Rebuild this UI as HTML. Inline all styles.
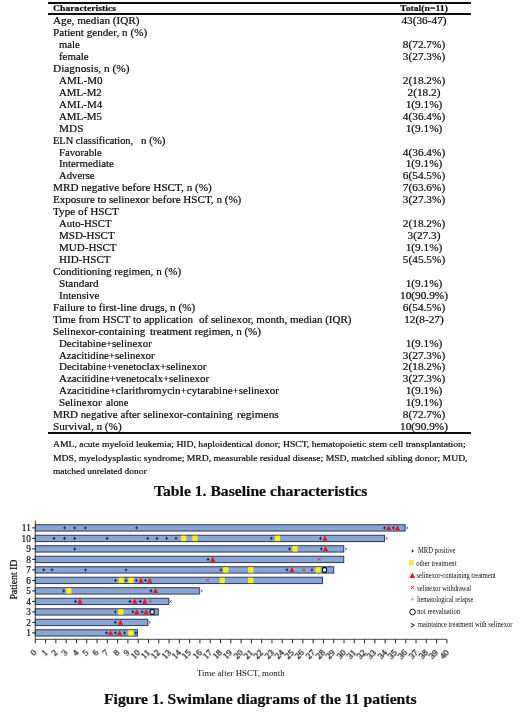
<!DOCTYPE html>
<html><head><meta charset="utf-8"><title>Table 1 / Figure 1</title>
<style>
html,body{margin:0;padding:0;background:#fff;}
body{width:520px;height:718px;position:relative;overflow:hidden;font-family:"Liberation Serif",serif;color:#0c0c0c;}
.t{position:absolute;white-space:pre;line-height:1;transform-origin:0 0;-webkit-text-stroke:0.2px #0c0c0c;}
.c{position:absolute;white-space:pre;line-height:1;text-align:center;transform-origin:50% 0;-webkit-text-stroke:0.2px #0c0c0c;}
.hl{position:absolute;left:48px;width:422.6px;background:#0c0c0c;}
svg{position:absolute;left:0;top:0;}
.xl{position:absolute;font-size:9px;line-height:1;white-space:pre;text-align:right;transform-origin:100% 7.54px;transform:rotate(-45deg);-webkit-text-stroke:0.25px #0c0c0c;will-change:transform;}
svg text{font-family:"Liberation Serif",serif;fill:#0c0c0c;}
</style></head><body>

<div class="hl" style="top:1.7px;height:2px"></div>
<div class="hl" style="top:13.4px;height:1.8px"></div>
<div class="hl" style="top:432.1px;height:2.1px"></div>
<span class="t" style="left:53.10px;top:4.26px;font-size:9px;transform:scaleX(1.0790);font-weight:bold;">Characteristics</span>
<span class="c" style="left:324.30px;width:200px;top:4.26px;font-size:9px;transform:scaleX(1.0800);font-weight:bold;">Total(n=11)</span>
<span class="t" style="left:52.90px;top:16.18px;font-size:10.0px;transform:scaleX(1.1165);">Age, median (IQR)</span>
<span class="c" style="left:323.70px;width:200px;top:16.18px;font-size:10.0px;transform:scaleX(1.1300);">43(36-47)</span>
<span class="t" style="left:52.90px;top:28.12px;font-size:10.0px;transform:scaleX(1.1127);">Patient gender, n (%)</span>
<span class="t" style="left:58.60px;top:40.05px;font-size:10.0px;transform:scaleX(1.0704);">male</span>
<span class="c" style="left:323.70px;width:200px;top:40.05px;font-size:10.0px;transform:scaleX(1.1300);">8(72.7%)</span>
<span class="t" style="left:58.60px;top:52.00px;font-size:10.0px;transform:scaleX(1.0882);">female</span>
<span class="c" style="left:323.70px;width:200px;top:52.00px;font-size:10.0px;transform:scaleX(1.1300);">3(27.3%)</span>
<span class="t" style="left:52.90px;top:63.94px;font-size:10.0px;transform:scaleX(1.1335);">Diagnosis, n (%)</span>
<span class="t" style="left:58.60px;top:75.88px;font-size:10.0px;transform:scaleX(1.1054);">AML-M0</span>
<span class="c" style="left:323.70px;width:200px;top:75.88px;font-size:10.0px;transform:scaleX(1.1300);">2(18.2%)</span>
<span class="t" style="left:58.60px;top:87.81px;font-size:10.0px;transform:scaleX(1.0851);">AML-M2</span>
<span class="c" style="left:323.70px;width:200px;top:87.81px;font-size:10.0px;transform:scaleX(1.1300);">2(18.2)</span>
<span class="t" style="left:58.60px;top:99.75px;font-size:10.0px;transform:scaleX(1.0952);">AML-M4</span>
<span class="c" style="left:323.70px;width:200px;top:99.75px;font-size:10.0px;transform:scaleX(1.1300);">1(9.1%)</span>
<span class="t" style="left:58.60px;top:111.69px;font-size:10.0px;transform:scaleX(1.0902);">AML-M5</span>
<span class="c" style="left:323.70px;width:200px;top:111.69px;font-size:10.0px;transform:scaleX(1.1300);">4(36.4%)</span>
<span class="t" style="left:58.60px;top:123.63px;font-size:10.0px;transform:scaleX(1.1257);">MDS</span>
<span class="c" style="left:323.70px;width:200px;top:123.63px;font-size:10.0px;transform:scaleX(1.1300);">1(9.1%)</span>
<span class="t" style="left:52.90px;top:135.57px;font-size:10.0px;transform:scaleX(1.0376);">ELN classification,</span>
<span class="t" style="left:140.50px;top:135.57px;font-size:10.0px;transform:scaleX(1.0893);">n (%)</span>
<span class="t" style="left:58.60px;top:147.52px;font-size:10.0px;transform:scaleX(1.0704);">Favorable</span>
<span class="c" style="left:323.70px;width:200px;top:147.52px;font-size:10.0px;transform:scaleX(1.1300);">4(36.4%)</span>
<span class="t" style="left:58.60px;top:159.46px;font-size:10.0px;transform:scaleX(1.0846);">Intermediate</span>
<span class="c" style="left:323.70px;width:200px;top:159.46px;font-size:10.0px;transform:scaleX(1.1300);">1(9.1%)</span>
<span class="t" style="left:58.60px;top:171.40px;font-size:10.0px;transform:scaleX(1.0684);">Adverse</span>
<span class="c" style="left:323.70px;width:200px;top:171.40px;font-size:10.0px;transform:scaleX(1.1300);">6(54.5%)</span>
<span class="t" style="left:52.90px;top:183.34px;font-size:10.0px;transform:scaleX(1.1183);">MRD negative before HSCT, n (%)</span>
<span class="c" style="left:323.70px;width:200px;top:183.34px;font-size:10.0px;transform:scaleX(1.1300);">7(63.6%)</span>
<span class="t" style="left:52.90px;top:195.28px;font-size:10.0px;transform:scaleX(1.1073);">Exposure to selinexor before HSCT, n (%)</span>
<span class="c" style="left:323.70px;width:200px;top:195.28px;font-size:10.0px;transform:scaleX(1.1300);">3(27.3%)</span>
<span class="t" style="left:52.90px;top:207.22px;font-size:10.0px;transform:scaleX(1.1202);">Type of HSCT</span>
<span class="t" style="left:58.60px;top:219.16px;font-size:10.0px;transform:scaleX(1.0758);">Auto-HSCT</span>
<span class="c" style="left:323.70px;width:200px;top:219.16px;font-size:10.0px;transform:scaleX(1.1300);">2(18.2%)</span>
<span class="t" style="left:58.60px;top:231.09px;font-size:10.0px;transform:scaleX(1.0995);">MSD-HSCT</span>
<span class="c" style="left:323.70px;width:200px;top:231.09px;font-size:10.0px;transform:scaleX(1.1300);">3(27.3)</span>
<span class="t" style="left:58.60px;top:243.03px;font-size:10.0px;transform:scaleX(1.1029);">MUD-HSCT</span>
<span class="c" style="left:323.70px;width:200px;top:243.03px;font-size:10.0px;transform:scaleX(1.1300);">1(9.1%)</span>
<span class="t" style="left:58.60px;top:254.97px;font-size:10.0px;transform:scaleX(1.1057);">HID-HSCT</span>
<span class="c" style="left:323.70px;width:200px;top:254.97px;font-size:10.0px;transform:scaleX(1.1300);">5(45.5%)</span>
<span class="t" style="left:52.90px;top:266.91px;font-size:10.0px;transform:scaleX(1.1087);">Conditioning regimen, n (%)</span>
<span class="t" style="left:58.60px;top:278.86px;font-size:10.0px;transform:scaleX(1.1140);">Standard</span>
<span class="c" style="left:323.70px;width:200px;top:278.86px;font-size:10.0px;transform:scaleX(1.1300);">1(9.1%)</span>
<span class="t" style="left:58.60px;top:290.80px;font-size:10.0px;transform:scaleX(1.1022);">Intensive</span>
<span class="c" style="left:323.70px;width:200px;top:290.80px;font-size:10.0px;transform:scaleX(1.1300);">10(90.9%)</span>
<span class="t" style="left:52.90px;top:302.74px;font-size:10.0px;transform:scaleX(1.1123);">Failure to first-line drugs, n (%)</span>
<span class="c" style="left:323.70px;width:200px;top:302.74px;font-size:10.0px;transform:scaleX(1.1300);">6(54.5%)</span>
<span class="t" style="left:52.60px;top:314.68px;font-size:10.0px;transform:scaleX(1.0949);">Time from HSCT to application</span>
<span class="t" style="left:198.50px;top:314.68px;font-size:10.0px;transform:scaleX(1.1014);">of selinexor, month, median (IQR)</span>
<span class="c" style="left:323.70px;width:200px;top:314.68px;font-size:10.0px;transform:scaleX(1.1300);">12(8-27)</span>
<span class="t" style="left:52.60px;top:326.62px;font-size:10.0px;transform:scaleX(1.1020);">Selinexor-containing</span>
<span class="t" style="left:149.50px;top:326.62px;font-size:10.0px;transform:scaleX(1.1043);">treatment regimen, n (%)</span>
<span class="t" style="left:58.60px;top:338.56px;font-size:10.0px;transform:scaleX(1.0841);">Decitabine+selinexor</span>
<span class="c" style="left:323.70px;width:200px;top:338.56px;font-size:10.0px;transform:scaleX(1.1300);">1(9.1%)</span>
<span class="t" style="left:58.60px;top:350.50px;font-size:10.0px;transform:scaleX(1.0817);">Azacitidine+selinexor</span>
<span class="c" style="left:323.70px;width:200px;top:350.50px;font-size:10.0px;transform:scaleX(1.1300);">3(27.3%)</span>
<span class="t" style="left:58.60px;top:362.44px;font-size:10.0px;transform:scaleX(1.0947);">Decitabine+venetoclax+selinexor</span>
<span class="c" style="left:323.70px;width:200px;top:362.44px;font-size:10.0px;transform:scaleX(1.1300);">2(18.2%)</span>
<span class="t" style="left:58.60px;top:374.38px;font-size:10.0px;transform:scaleX(1.0937);">Azacitidine+venetocalx+selinexor</span>
<span class="c" style="left:323.70px;width:200px;top:374.38px;font-size:10.0px;transform:scaleX(1.1300);">3(27.3%)</span>
<span class="t" style="left:58.60px;top:386.31px;font-size:10.0px;transform:scaleX(1.0991);">Azacitidine+clarithromycin+cytarabine+selinexor</span>
<span class="c" style="left:323.70px;width:200px;top:386.31px;font-size:10.0px;transform:scaleX(1.1300);">1(9.1%)</span>
<span class="t" style="left:58.60px;top:398.25px;font-size:10.0px;transform:scaleX(1.1115);">Selinexor</span>
<span class="t" style="left:106.20px;top:398.25px;font-size:10.0px;transform:scaleX(1.0298);">alone</span>
<span class="c" style="left:323.70px;width:200px;top:398.25px;font-size:10.0px;transform:scaleX(1.1300);">1(9.1%)</span>
<span class="t" style="left:52.90px;top:410.19px;font-size:10.0px;transform:scaleX(1.0932);">MRD negative after selinexor-containing</span>
<span class="t" style="left:237.20px;top:410.19px;font-size:10.0px;transform:scaleX(1.1404);">regimens</span>
<span class="c" style="left:323.70px;width:200px;top:410.19px;font-size:10.0px;transform:scaleX(1.1300);">8(72.7%)</span>
<span class="t" style="left:52.90px;top:422.13px;font-size:10.0px;transform:scaleX(1.1177);">Survival, n (%)</span>
<span class="c" style="left:323.70px;width:200px;top:422.13px;font-size:10.0px;transform:scaleX(1.1300);">10(90.9%)</span>
<span class="t" style="left:53.10px;top:439.50px;font-size:8.6px;transform:scaleX(1.1217);">AML, acute myeloid leukemia; HID, haploidentical donor; HSCT, hematopoietic stem cell transplantation;</span>
<span class="t" style="left:53.10px;top:453.60px;font-size:8.6px;transform:scaleX(1.1211);">MDS, myelodysplastic syndrome; MRD, measurable residual disease; MSD, matched sibling donor; MUD,</span>
<span class="t" style="left:53.10px;top:467.40px;font-size:8.6px;transform:scaleX(1.0949);">matched unrelated donor</span>
<span class="t" style="left:153.60px;top:483.97px;font-size:14.6px;transform:scaleX(1.0725);font-weight:bold;">Table 1. Baseline characteristics</span>
<span class="t" style="left:103.60px;top:691.57px;font-size:14.6px;transform:scaleX(1.0719);font-weight:bold;">Figure 1. Swimlane diagrams of the 11 patients</span>
<!--CS--><svg width="520" height="718" viewBox="0 0 520 718">
<rect x="35.30" y="629.75" width="102.10" height="6.3" fill="#8aa5d4" stroke="#33405f" stroke-width="1.05"/>
<rect x="35.30" y="619.25" width="112.50" height="6.3" fill="#8aa5d4" stroke="#33405f" stroke-width="1.05"/>
<rect x="35.30" y="608.75" width="122.90" height="6.3" fill="#8aa5d4" stroke="#33405f" stroke-width="1.05"/>
<rect x="35.30" y="598.25" width="133.40" height="6.3" fill="#8aa5d4" stroke="#33405f" stroke-width="1.05"/>
<rect x="35.30" y="587.75" width="164.00" height="6.3" fill="#8aa5d4" stroke="#33405f" stroke-width="1.05"/>
<rect x="35.30" y="577.25" width="287.20" height="6.3" fill="#8aa5d4" stroke="#33405f" stroke-width="1.05"/>
<rect x="35.30" y="566.75" width="298.40" height="6.3" fill="#8aa5d4" stroke="#33405f" stroke-width="1.05"/>
<rect x="35.30" y="556.25" width="308.40" height="6.3" fill="#8aa5d4" stroke="#33405f" stroke-width="1.05"/>
<rect x="35.30" y="545.75" width="308.40" height="6.3" fill="#8aa5d4" stroke="#33405f" stroke-width="1.05"/>
<rect x="35.30" y="535.25" width="349.20" height="6.3" fill="#8aa5d4" stroke="#33405f" stroke-width="1.05"/>
<rect x="35.30" y="524.75" width="369.80" height="6.3" fill="#8aa5d4" stroke="#33405f" stroke-width="1.05"/>
<path stroke="#333" stroke-width="0.9" fill="none" d="M35.30 520.6V639.3H446.90"/>
<path stroke="#222" stroke-width="1" fill="none" d="M35.30 639.3v4.0M45.59 639.3v4.0M55.88 639.3v4.0M66.17 639.3v4.0M76.46 639.3v4.0M86.75 639.3v4.0M97.04 639.3v4.0M107.33 639.3v4.0M117.62 639.3v4.0M127.91 639.3v4.0M138.20 639.3v4.0M148.49 639.3v4.0M158.78 639.3v4.0M169.07 639.3v4.0M179.36 639.3v4.0M189.65 639.3v4.0M199.94 639.3v4.0M210.23 639.3v4.0M220.52 639.3v4.0M230.81 639.3v4.0M241.10 639.3v4.0M251.39 639.3v4.0M261.68 639.3v4.0M271.97 639.3v4.0M282.26 639.3v4.0M292.55 639.3v4.0M302.84 639.3v4.0M313.13 639.3v4.0M323.42 639.3v4.0M333.71 639.3v4.0M344.00 639.3v4.0M354.29 639.3v4.0M364.58 639.3v4.0M374.87 639.3v4.0M385.16 639.3v4.0M395.45 639.3v4.0M405.74 639.3v4.0M416.03 639.3v4.0M426.32 639.3v4.0M436.61 639.3v4.0M446.90 639.3v4.0M35.30 632.90h-3.2M35.30 622.40h-3.2M35.30 611.90h-3.2M35.30 601.40h-3.2M35.30 590.90h-3.2M35.30 580.40h-3.2M35.30 569.90h-3.2M35.30 559.40h-3.2M35.30 548.90h-3.2M35.30 538.40h-3.2M35.30 527.90h-3.2"/>
<text x="30.8" y="636.00" font-size="9.3" text-anchor="end" stroke="#0c0c0c" stroke-width="0.2">1</text>
<text x="30.8" y="625.50" font-size="9.3" text-anchor="end" stroke="#0c0c0c" stroke-width="0.2">2</text>
<text x="30.8" y="615.00" font-size="9.3" text-anchor="end" stroke="#0c0c0c" stroke-width="0.2">3</text>
<text x="30.8" y="604.50" font-size="9.3" text-anchor="end" stroke="#0c0c0c" stroke-width="0.2">4</text>
<text x="30.8" y="594.00" font-size="9.3" text-anchor="end" stroke="#0c0c0c" stroke-width="0.2">5</text>
<text x="30.8" y="583.50" font-size="9.3" text-anchor="end" stroke="#0c0c0c" stroke-width="0.2">6</text>
<text x="30.8" y="573.00" font-size="9.3" text-anchor="end" stroke="#0c0c0c" stroke-width="0.2">7</text>
<text x="30.8" y="562.50" font-size="9.3" text-anchor="end" stroke="#0c0c0c" stroke-width="0.2">8</text>
<text x="30.8" y="552.00" font-size="9.3" text-anchor="end" stroke="#0c0c0c" stroke-width="0.2">9</text>
<text x="30.8" y="541.50" font-size="9.3" text-anchor="end" stroke="#0c0c0c" stroke-width="0.2">10</text>
<text x="30.8" y="531.00" font-size="9.3" text-anchor="end" stroke="#0c0c0c" stroke-width="0.2">11</text>
<text font-size="9.8" text-anchor="middle" stroke="#0c0c0c" stroke-width="0.2" transform="translate(16.6 579.6) rotate(-90)">Patient ID</text>
<text x="196.9" y="676.2" font-size="8.8" textLength="87.7" lengthAdjust="spacingAndGlyphs">Time after HSCT, month</text>
<rect fill="#fff200" x="181.15" y="535.70" width="5.2" height="5.4"/>
<rect fill="#fff200" x="192.40" y="535.70" width="5.2" height="5.4"/>
<rect fill="#fff200" x="274.90" y="535.70" width="5.2" height="5.4"/>
<rect fill="#fff200" x="292.40" y="546.20" width="5.2" height="5.4"/>
<rect fill="#fff200" x="223.15" y="567.20" width="5.2" height="5.4"/>
<rect fill="#fff200" x="248.15" y="567.20" width="5.2" height="5.4"/>
<rect fill="#fff200" x="315.65" y="567.20" width="5.2" height="5.4"/>
<rect fill="#fff200" x="118.65" y="577.70" width="5.2" height="5.4"/>
<rect fill="#fff200" x="128.40" y="577.70" width="5.2" height="5.4"/>
<rect fill="#fff200" x="219.65" y="577.70" width="5.2" height="5.4"/>
<rect fill="#fff200" x="248.15" y="577.70" width="5.2" height="5.4"/>
<rect fill="#fff200" x="66.15" y="588.20" width="5.2" height="5.4"/>
<rect fill="#fff200" x="118.20" y="609.20" width="5.2" height="5.4"/>
<rect fill="#fff200" x="128.30" y="630.20" width="5.2" height="5.4"/>
<polygon fill="#12214f" points="64.75,525.80 65.30,527.35 66.65,527.90 65.30,528.45 64.75,530.00 64.20,528.45 62.85,527.90 64.20,527.35"/>
<polygon fill="#12214f" points="74.75,525.80 75.30,527.35 76.65,527.90 75.30,528.45 74.75,530.00 74.20,528.45 72.85,527.90 74.20,527.35"/>
<polygon fill="#12214f" points="85.25,525.80 85.80,527.35 87.15,527.90 85.80,528.45 85.25,530.00 84.70,528.45 83.35,527.90 84.70,527.35"/>
<polygon fill="#12214f" points="136.75,525.80 137.30,527.35 138.65,527.90 137.30,528.45 136.75,530.00 136.20,528.45 134.85,527.90 136.20,527.35"/>
<polygon fill="#12214f" points="384.50,525.80 385.05,527.35 386.40,527.90 385.05,528.45 384.50,530.00 383.95,528.45 382.60,527.90 383.95,527.35"/>
<polygon fill="#12214f" points="393.25,525.80 393.80,527.35 395.15,527.90 393.80,528.45 393.25,530.00 392.70,528.45 391.35,527.90 392.70,527.35"/>
<polygon fill="#12214f" points="54.00,536.30 54.55,537.85 55.90,538.40 54.55,538.95 54.00,540.50 53.45,538.95 52.10,538.40 53.45,537.85"/>
<polygon fill="#12214f" points="64.50,536.30 65.05,537.85 66.40,538.40 65.05,538.95 64.50,540.50 63.95,538.95 62.60,538.40 63.95,537.85"/>
<polygon fill="#12214f" points="74.75,536.30 75.30,537.85 76.65,538.40 75.30,538.95 74.75,540.50 74.20,538.95 72.85,538.40 74.20,537.85"/>
<polygon fill="#12214f" points="107.00,536.30 107.55,537.85 108.90,538.40 107.55,538.95 107.00,540.50 106.45,538.95 105.10,538.40 106.45,537.85"/>
<polygon fill="#12214f" points="147.75,536.30 148.30,537.85 149.65,538.40 148.30,538.95 147.75,540.50 147.20,538.95 145.85,538.40 147.20,537.85"/>
<polygon fill="#12214f" points="157.00,536.30 157.55,537.85 158.90,538.40 157.55,538.95 157.00,540.50 156.45,538.95 155.10,538.40 156.45,537.85"/>
<polygon fill="#12214f" points="166.75,536.30 167.30,537.85 168.65,538.40 167.30,538.95 166.75,540.50 166.20,538.95 164.85,538.40 166.20,537.85"/>
<polygon fill="#12214f" points="176.00,536.30 176.55,537.85 177.90,538.40 176.55,538.95 176.00,540.50 175.45,538.95 174.10,538.40 175.45,537.85"/>
<polygon fill="#12214f" points="271.25,536.30 271.80,537.85 273.15,538.40 271.80,538.95 271.25,540.50 270.70,538.95 269.35,538.40 270.70,537.85"/>
<polygon fill="#12214f" points="320.50,536.30 321.05,537.85 322.40,538.40 321.05,538.95 320.50,540.50 319.95,538.95 318.60,538.40 319.95,537.85"/>
<polygon fill="#12214f" points="74.75,546.80 75.30,548.35 76.65,548.90 75.30,549.45 74.75,551.00 74.20,549.45 72.85,548.90 74.20,548.35"/>
<polygon fill="#12214f" points="289.50,546.80 290.05,548.35 291.40,548.90 290.05,549.45 289.50,551.00 288.95,549.45 287.60,548.90 288.95,548.35"/>
<polygon fill="#12214f" points="321.25,546.80 321.80,548.35 323.15,548.90 321.80,549.45 321.25,551.00 320.70,549.45 319.35,548.90 320.70,548.35"/>
<polygon fill="#12214f" points="208.00,557.30 208.55,558.85 209.90,559.40 208.55,559.95 208.00,561.50 207.45,559.95 206.10,559.40 207.45,558.85"/>
<polygon fill="#12214f" points="43.75,567.80 44.30,569.35 45.65,569.90 44.30,570.45 43.75,572.00 43.20,570.45 41.85,569.90 43.20,569.35"/>
<polygon fill="#12214f" points="52.00,567.80 52.55,569.35 53.90,569.90 52.55,570.45 52.00,572.00 51.45,570.45 50.10,569.90 51.45,569.35"/>
<polygon fill="#12214f" points="85.50,567.80 86.05,569.35 87.40,569.90 86.05,570.45 85.50,572.00 84.95,570.45 83.60,569.90 84.95,569.35"/>
<polygon fill="#12214f" points="126.00,567.80 126.55,569.35 127.90,569.90 126.55,570.45 126.00,572.00 125.45,570.45 124.10,569.90 125.45,569.35"/>
<polygon fill="#12214f" points="221.00,567.80 221.55,569.35 222.90,569.90 221.55,570.45 221.00,572.00 220.45,570.45 219.10,569.90 220.45,569.35"/>
<polygon fill="#12214f" points="287.00,567.80 287.55,569.35 288.90,569.90 287.55,570.45 287.00,572.00 286.45,570.45 285.10,569.90 286.45,569.35"/>
<polygon fill="#12214f" points="312.00,567.80 312.55,569.35 313.90,569.90 312.55,570.45 312.00,572.00 311.45,570.45 310.10,569.90 311.45,569.35"/>
<polygon fill="#12214f" points="115.50,578.30 116.05,579.85 117.40,580.40 116.05,580.95 115.50,582.50 114.95,580.95 113.60,580.40 114.95,579.85"/>
<polygon fill="#12214f" points="126.00,578.30 126.55,579.85 127.90,580.40 126.55,580.95 126.00,582.50 125.45,580.95 124.10,580.40 125.45,579.85"/>
<polygon fill="#12214f" points="136.25,578.30 136.80,579.85 138.15,580.40 136.80,580.95 136.25,582.50 135.70,580.95 134.35,580.40 135.70,579.85"/>
<polygon fill="#12214f" points="145.50,578.30 146.05,579.85 147.40,580.40 146.05,580.95 145.50,582.50 144.95,580.95 143.60,580.40 144.95,579.85"/>
<polygon fill="#12214f" points="63.75,588.80 64.30,590.35 65.65,590.90 64.30,591.45 63.75,593.00 63.20,591.45 61.85,590.90 63.20,590.35"/>
<polygon fill="#12214f" points="151.00,588.80 151.55,590.35 152.90,590.90 151.55,591.45 151.00,593.00 150.45,591.45 149.10,590.90 150.45,590.35"/>
<polygon fill="#12214f" points="75.50,599.30 76.05,600.85 77.40,601.40 76.05,601.95 75.50,603.50 74.95,601.95 73.60,601.40 74.95,600.85"/>
<polygon fill="#12214f" points="130.00,599.30 130.55,600.85 131.90,601.40 130.55,601.95 130.00,603.50 129.45,601.95 128.10,601.40 129.45,600.85"/>
<polygon fill="#12214f" points="140.25,599.30 140.80,600.85 142.15,601.40 140.80,601.95 140.25,603.50 139.70,601.95 138.35,601.40 139.70,600.85"/>
<polygon fill="#12214f" points="115.20,609.80 115.75,611.35 117.10,611.90 115.75,612.45 115.20,614.00 114.65,612.45 113.30,611.90 114.65,611.35"/>
<polygon fill="#12214f" points="132.90,609.80 133.45,611.35 134.80,611.90 133.45,612.45 132.90,614.00 132.35,612.45 131.00,611.90 132.35,611.35"/>
<polygon fill="#12214f" points="142.10,609.80 142.65,611.35 144.00,611.90 142.65,612.45 142.10,614.00 141.55,612.45 140.20,611.90 141.55,611.35"/>
<polygon fill="#12214f" points="115.20,620.30 115.75,621.85 117.10,622.40 115.75,622.95 115.20,624.50 114.65,622.95 113.30,622.40 114.65,621.85"/>
<polygon fill="#12214f" points="106.60,630.80 107.15,632.35 108.50,632.90 107.15,633.45 106.60,635.00 106.05,633.45 104.70,632.90 106.05,632.35"/>
<polygon fill="#12214f" points="115.30,630.80 115.85,632.35 117.20,632.90 115.85,633.45 115.30,635.00 114.75,633.45 113.40,632.90 114.75,632.35"/>
<polygon fill="#12214f" points="124.60,630.80 125.15,632.35 126.50,632.90 125.15,633.45 124.60,635.00 124.05,633.45 122.70,632.90 124.05,632.35"/>
<polygon fill="#12214f" points="135.80,630.80 136.35,632.35 137.70,632.90 136.35,633.45 135.80,635.00 135.25,633.45 133.90,632.90 135.25,632.35"/>
<polygon fill="#e8141e" points="388.75,524.90 391.35,530.20 386.15,530.20"/>
<polygon fill="#e8141e" points="397.50,524.90 400.10,530.20 394.90,530.20"/>
<polygon fill="#e8141e" points="325.00,535.40 327.60,540.70 322.40,540.70"/>
<polygon fill="#e8141e" points="325.50,545.90 328.10,551.20 322.90,551.20"/>
<polygon fill="#e8141e" points="212.75,556.40 215.35,561.70 210.15,561.70"/>
<polygon fill="#e8141e" points="292.00,566.90 294.60,572.20 289.40,572.20"/>
<polygon fill="#e8141e" points="141.00,577.40 143.60,582.70 138.40,582.70"/>
<polygon fill="#e8141e" points="149.75,577.40 152.35,582.70 147.15,582.70"/>
<polygon fill="#e8141e" points="155.50,587.90 158.10,593.20 152.90,593.20"/>
<polygon fill="#e8141e" points="80.00,598.40 82.60,603.70 77.40,603.70"/>
<polygon fill="#e8141e" points="134.75,598.40 137.35,603.70 132.15,603.70"/>
<polygon fill="#e8141e" points="144.75,598.40 147.35,603.70 142.15,603.70"/>
<polygon fill="#e8141e" points="136.90,608.90 139.50,614.20 134.30,614.20"/>
<polygon fill="#e8141e" points="146.20,608.90 148.80,614.20 143.60,614.20"/>
<polygon fill="#e8141e" points="120.40,619.40 123.00,624.70 117.80,624.70"/>
<polygon fill="#e8141e" points="110.60,629.90 113.20,635.20 108.00,635.20"/>
<polygon fill="#e8141e" points="119.60,629.90 122.20,635.20 117.00,635.20"/>
<path stroke="#e8141e" stroke-width="0.7" fill="none" d="M317.75 557.90L320.75 560.90M317.75 560.90L320.75 557.90"/>
<path stroke="#e8141e" stroke-width="0.7" fill="none" d="M302.25 568.40L305.25 571.40M302.25 571.40L305.25 568.40"/>
<path stroke="#e8141e" stroke-width="0.7" fill="none" d="M206.00 578.90L209.00 581.90M206.00 581.90L209.00 578.90"/>
<path stroke="#e2402e" stroke-width="0.6" fill="none" d="M148.80 601.40L152.20 601.40M150.50 599.70L150.50 603.10"/>
<ellipse cx="324.50" cy="569.90" rx="2.2" ry="2.5" fill="#dfe6f3" stroke="#0a1230" stroke-width="1.15"/>
<ellipse cx="152.20" cy="611.90" rx="2.2" ry="2.5" fill="#dfe6f3" stroke="#0a1230" stroke-width="1.15"/>
<path stroke="#222" stroke-width="0.6" fill="none" d="M406.20 526.70L408.20 527.90L406.20 529.10"/>
<path stroke="#222" stroke-width="0.6" fill="none" d="M385.50 537.20L387.50 538.40L385.50 539.60"/>
<path stroke="#222" stroke-width="0.6" fill="none" d="M344.90 547.70L346.90 548.90L344.90 550.10"/>
<path stroke="#222" stroke-width="0.6" fill="none" d="M200.40 589.70L202.40 590.90L200.40 592.10"/>
<path stroke="#222" stroke-width="0.6" fill="none" d="M148.60 621.20L150.60 622.40L148.60 623.60"/>
<path stroke="#222" stroke-width="0.6" fill="none" d="M169.30 600.10L171.90 602.70M169.30 602.70L171.90 600.10"/>
<polygon fill="#12214f" points="412.60,548.89 413.12,550.38 414.41,550.90 413.12,551.42 412.60,552.90 412.08,551.42 410.80,550.90 412.08,550.38"/>
<rect fill="#fbee3a" x="409.1" y="560.2" width="4.7" height="5.4"/>
<polygon fill="#e8141e" points="412.3,572.5 415.2,578 409.4,578"/>
<path stroke="#e8141e" stroke-width="1.0" fill="none" d="M411.00 585.90L414.00 588.90M411.00 588.90L414.00 585.90"/>
<path stroke="#e2705c" stroke-width="0.7" fill="none" d="M410.80 599.30L413.80 599.30M412.30 597.80L412.30 600.80"/>
<circle cx="412.5" cy="611.9" r="2.8" fill="#fff" stroke="#111" stroke-width="1"/>
<path stroke="#111" stroke-width="1" fill="none" d="M410.9 623.4L414.5 625.3L410.9 627.2"/>
<text x="418.00" y="553.20" font-size="7.8" textLength="37.4" lengthAdjust="spacingAndGlyphs">MRD positive</text>
<text x="416.20" y="565.70" font-size="7.8" textLength="40.3" lengthAdjust="spacingAndGlyphs">other treatment</text>
<text x="416.60" y="578.10" font-size="7.8" textLength="79.2" lengthAdjust="spacingAndGlyphs">selinexor-containing treatment</text>
<text x="417.30" y="590.50" font-size="7.8" textLength="53.7" lengthAdjust="spacingAndGlyphs">selinexor withdrawal</text>
<text x="417.30" y="601.80" font-size="7.8" textLength="56.1" lengthAdjust="spacingAndGlyphs">hematological relapse</text>
<text x="417.30" y="614.40" font-size="7.8" textLength="42.7" lengthAdjust="spacingAndGlyphs">not reevaluation</text>
<text x="418.00" y="627.10" font-size="7.8" textLength="94.4" lengthAdjust="spacingAndGlyphs">maintaince treatment with selinexor</text>
</svg>
<span class="xl" style="left:33.40px;top:646.46px;width:4.5px">0</span>
<span class="xl" style="left:43.69px;top:646.46px;width:4.5px">1</span>
<span class="xl" style="left:53.98px;top:646.46px;width:4.5px">2</span>
<span class="xl" style="left:64.27px;top:646.46px;width:4.5px">3</span>
<span class="xl" style="left:74.56px;top:646.46px;width:4.5px">4</span>
<span class="xl" style="left:84.85px;top:646.46px;width:4.5px">5</span>
<span class="xl" style="left:95.14px;top:646.46px;width:4.5px">6</span>
<span class="xl" style="left:105.43px;top:646.46px;width:4.5px">7</span>
<span class="xl" style="left:115.72px;top:646.46px;width:4.5px">8</span>
<span class="xl" style="left:126.01px;top:646.46px;width:4.5px">9</span>
<span class="xl" style="left:131.80px;top:646.46px;width:9.0px">10</span>
<span class="xl" style="left:142.09px;top:646.46px;width:9.0px">11</span>
<span class="xl" style="left:152.38px;top:646.46px;width:9.0px">12</span>
<span class="xl" style="left:162.67px;top:646.46px;width:9.0px">13</span>
<span class="xl" style="left:172.96px;top:646.46px;width:9.0px">14</span>
<span class="xl" style="left:183.25px;top:646.46px;width:9.0px">15</span>
<span class="xl" style="left:193.54px;top:646.46px;width:9.0px">16</span>
<span class="xl" style="left:203.83px;top:646.46px;width:9.0px">17</span>
<span class="xl" style="left:214.12px;top:646.46px;width:9.0px">18</span>
<span class="xl" style="left:224.41px;top:646.46px;width:9.0px">19</span>
<span class="xl" style="left:234.70px;top:646.46px;width:9.0px">20</span>
<span class="xl" style="left:244.99px;top:646.46px;width:9.0px">21</span>
<span class="xl" style="left:255.28px;top:646.46px;width:9.0px">22</span>
<span class="xl" style="left:265.57px;top:646.46px;width:9.0px">23</span>
<span class="xl" style="left:275.86px;top:646.46px;width:9.0px">24</span>
<span class="xl" style="left:286.15px;top:646.46px;width:9.0px">25</span>
<span class="xl" style="left:296.44px;top:646.46px;width:9.0px">26</span>
<span class="xl" style="left:306.73px;top:646.46px;width:9.0px">27</span>
<span class="xl" style="left:317.02px;top:646.46px;width:9.0px">28</span>
<span class="xl" style="left:327.31px;top:646.46px;width:9.0px">29</span>
<span class="xl" style="left:337.60px;top:646.46px;width:9.0px">30</span>
<span class="xl" style="left:347.89px;top:646.46px;width:9.0px">31</span>
<span class="xl" style="left:358.18px;top:646.46px;width:9.0px">32</span>
<span class="xl" style="left:368.47px;top:646.46px;width:9.0px">33</span>
<span class="xl" style="left:378.76px;top:646.46px;width:9.0px">34</span>
<span class="xl" style="left:389.05px;top:646.46px;width:9.0px">35</span>
<span class="xl" style="left:399.34px;top:646.46px;width:9.0px">36</span>
<span class="xl" style="left:409.63px;top:646.46px;width:9.0px">37</span>
<span class="xl" style="left:419.92px;top:646.46px;width:9.0px">38</span>
<span class="xl" style="left:430.21px;top:646.46px;width:9.0px">39</span>
<span class="xl" style="left:440.50px;top:646.46px;width:9.0px">40</span><!--CE-->
</body></html>
